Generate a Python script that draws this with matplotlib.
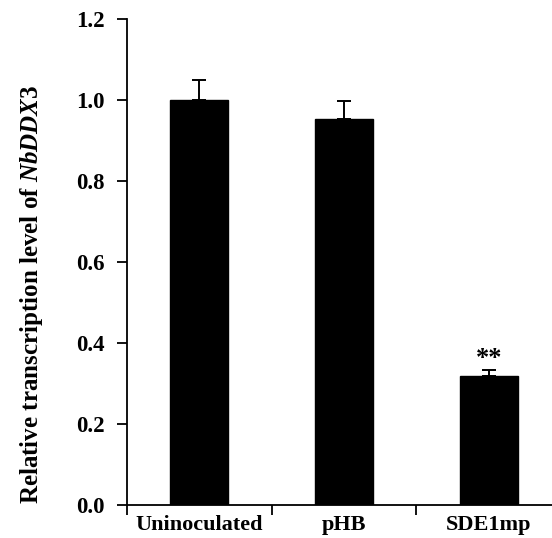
import matplotlib
matplotlib.use("Agg")
import matplotlib.pyplot as plt
import numpy as np

categories = ["Uninoculated", "pHB", "SDE1mp"]
values = [1.0, 0.952, 0.318]
errors = [0.05, 0.045, 0.015]
marks = ["", "", "**"]
yticks = [0.0, 0.2, 0.4, 0.6, 0.8, 1.0, 1.2]

plt.rcParams['font.family'] = ['Liberation Serif', 'DejaVu Serif']
plt.rcParams['font.weight'] = 'bold'
plt.rcParams['mathtext.fontset'] = 'custom'
plt.rcParams['mathtext.rm'] = 'Liberation Serif:bold'
plt.rcParams['mathtext.it'] = 'Liberation Serif:italic:bold'

fig = plt.figure(figsize=(5.52, 5.38), dpi=100)
ax = fig.add_axes([127 / 552, 33 / 538, 434 / 552, 486 / 538])

x = np.arange(len(categories))
ax.bar(x, values, width=0.4, color='black', edgecolor='black', zorder=2)
ax.errorbar(x, values, yerr=[np.zeros(len(errors)), errors], fmt='none',
            ecolor='black', elinewidth=1.4, capsize=5, capthick=1.4, zorder=1)
for xi, v, e, m in zip(x, values, errors, marks):
    if m:
        ax.text(xi, v + e + 0.0, m, ha='center', va='bottom', fontsize=19,
                fontweight='bold', color='black')

ax.set_xlim(-0.5, 2.5)
ax.set_ylim(0, 1.2)
ax.set_yticks(yticks)
ax.set_yticklabels([f"{t:.1f}" for t in yticks], fontsize=16.5, fontweight='bold')
ax.set_xticks(x)
ax.set_xticklabels(categories, fontsize=16, fontweight='bold')
ax.tick_params(axis='x', length=0, pad=7)
ax.set_xticks([-0.5, 0.5, 1.5, 2.5], minor=True)
ax.tick_params(axis='x', which='minor', length=7, width=1.3, direction='out')
ax.tick_params(axis='y', length=7, width=1.3, direction='out', pad=9)

for s in ['top', 'right']:
    ax.spines[s].set_visible(False)
for s in ['left', 'bottom']:
    ax.spines[s].set_linewidth(1.3)

ax.set_ylabel(r'Relative transcription level of $\mathit{NbDDX3}$', fontsize=18,
              fontweight='bold')
ax.yaxis.set_label_coords(-0.189, 0.434)

fig.savefig("out.png", dpi=100)
